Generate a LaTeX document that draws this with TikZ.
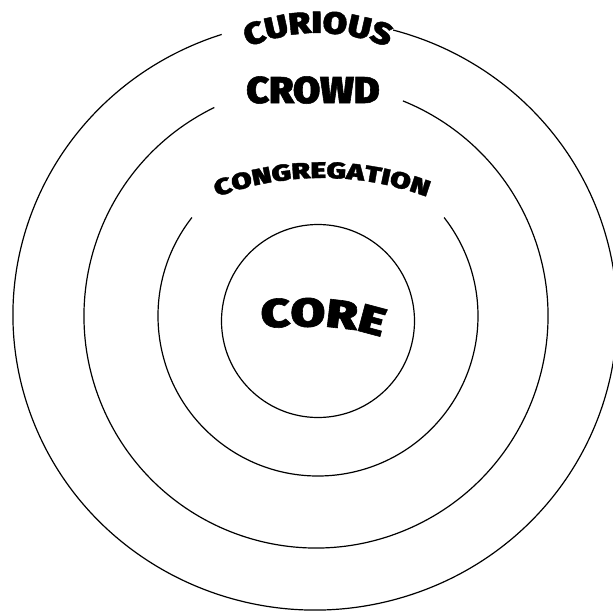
\documentclass[tikz,border=0pt]{standalone}
\usepackage{fontspec}
\newfontfamily\ringfont{Fira Sans Black}[FakeBold=1.5]
\usetikzlibrary{positioning, calc, decorations.text}

\begin{document}
\begin{tikzpicture}[x=0.75pt, y=0.75pt,
  ring/.style={draw=black, line width=0.9pt},
  arched/.style={decorate, decoration={text along path, text align=center, text={#1}}}]
\useasboundingbox (-316,-295) rectangle (297,316);
\draw[ring] ($(-1,1)+(108:302 and 295)$) arc[start angle=108, end angle=435, x radius=302, y radius=295];
\draw[ring] ($(0,0)+(116:232)$) arc[start angle=116, end angle=428, radius=232];
\draw[ring] ($(2,0)+(142:160)$) arc[start angle=142, end angle=398, radius=160];
\draw[ring] (2,-5) circle[radius=96.5];
\path[arched={|\ringfont\fontsize{23}{23}\selectfont\addfontfeature{FakeStretch=1.15}|CURIOUS}]
  ($(2,103)+(150:180)$) arc[start angle=150, end angle=30, radius=180];
\node[font=\ringfont\fontsize{28}{28}\selectfont\addfontfeature{FakeStretch=1.05}, anchor=base, inner sep=0pt] (crowd) at (-3,213) {CROWD};
\path[arched={|\ringfont\fontsize{17}{17}\selectfont\addfontfeature{FakeStretch=1.32}|CONGREGATION}]
  ($(6,-162)+(125:300)$) arc[start angle=125, end angle=55, radius=300];
\path[arched={|\ringfont\fontsize{30}{30}\selectfont\addfontfeature{FakeStretch=1.25}|CORE}]
  (-62,-12) .. controls (-15,-10) and (30,-7) .. (72,-24);
\end{tikzpicture}
\end{document}
